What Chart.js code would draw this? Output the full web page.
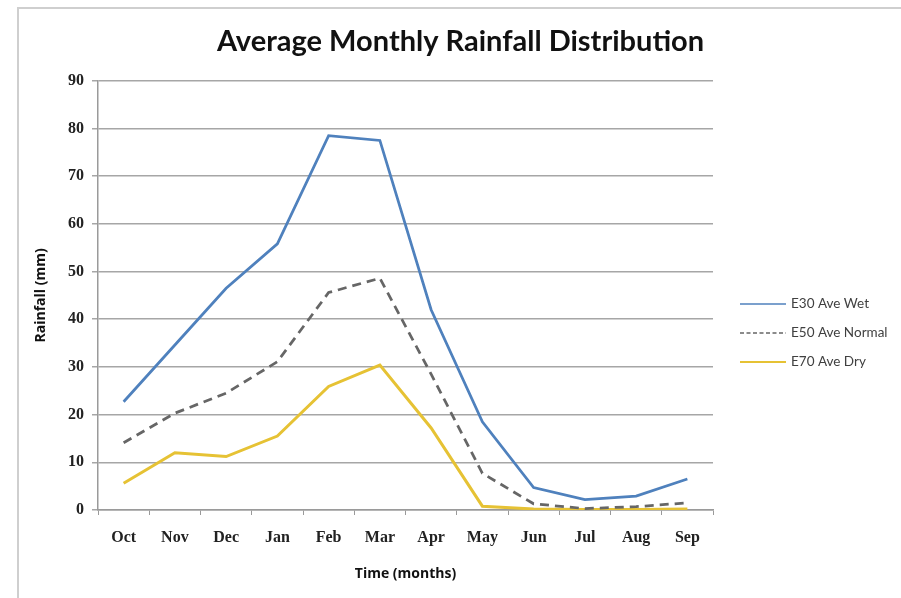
<!DOCTYPE html>
<html>
<head>
<meta charset="utf-8">
<script src="https://cdn.jsdelivr.net/npm/chart.js@4"></script>
<style>
  html, body { margin: 0; padding: 0; background: #ffffff; }
  #wrap { width: 901px; height: 598px; position: relative; }
</style>
</head>
<body>
<div id="wrap"><canvas id="c" width="901" height="598"></canvas></div>
<script>
// Months of the water year
const months = ['Oct', 'Nov', 'Dec', 'Jan', 'Feb', 'Mar', 'Apr', 'May', 'Jun', 'Jul', 'Aug', 'Sep'];

// Average monthly rainfall (mm)
const wetRain    = [22.7, 34.6, 46.5, 55.8, 78.5, 77.5, 42.0, 18.5, 4.7, 2.2, 2.9, 6.5];
const normalRain = [14.1, 20.3, 24.5, 31.1, 45.6, 48.6, 28.5, 7.7, 1.3, 0.3, 0.7, 1.5];
const dryRain    = [5.6, 12.0, 11.2, 15.5, 25.9, 30.4, 17.2, 0.8, 0.2, 0.1, 0.1, 0.2];

const seriesNames = ['E30 Ave Wet', 'E50 Ave Normal', 'E70 Ave Dry'];

// Thin grey frame around the chart panel
const framePlugin = {
  id: 'frame',
  beforeDraw(chart) {
    const ctx = chart.ctx;
    ctx.save();
    ctx.strokeStyle = '#cfcfcf';
    ctx.lineWidth = 2;
    ctx.beginPath();
    ctx.moveTo(18, 598);
    ctx.lineTo(18, 8);
    ctx.lineTo(901, 8);
    ctx.stroke();
    ctx.restore();
  }
};

// Legend listed to the right of the plot
const sideLegend = {
  id: 'sideLegend',
  afterDraw(chart) {
    const ctx = chart.ctx;
    const x0 = 740, x1 = 786, tx = 791;
    const ys = [304, 333, 362];
    ctx.save();
    ctx.font = '13.5px Lato, "Open Sans", sans-serif';
    ctx.textBaseline = 'middle';
    chart.data.datasets.forEach((ds, i) => {
      ctx.strokeStyle = ds.borderColor;
      ctx.lineWidth = ds.legendWidth || 2;
      ctx.setLineDash(ds.borderDash ? [4, 2.5] : []);
      ctx.beginPath();
      ctx.moveTo(x0, ys[i]);
      ctx.lineTo(x1, ys[i]);
      ctx.stroke();
      ctx.setLineDash([]);
      ctx.fillStyle = '#404040';
      ctx.fillText(ds.label, tx, ys[i]);
    });
    ctx.restore();
  }
};

const tickFont = { family: '"Liberation Serif", "DejaVu Serif", serif', size: 16, weight: 'bold' };
const axisTitleFont = { family: '"Open Sans", Lato, sans-serif', size: 14, weight: 'bold' };

new Chart(document.getElementById('c'), {
  type: 'line',
  data: {
    labels: months,
    datasets: [
      {
        label: seriesNames[0],
        data: wetRain,
        borderColor: '#4f81bd',
        backgroundColor: '#4f81bd',
        borderWidth: 2.75,
        legendWidth: 1.5,
        pointRadius: 0,
        tension: 0
      },
      {
        label: seriesNames[1],
        data: normalRain,
        borderColor: '#666666',
        backgroundColor: '#666666',
        borderWidth: 2.75,
        borderDash: [9, 6],
        legendWidth: 1.5,
        pointRadius: 0,
        tension: 0
      },
      {
        label: seriesNames[2],
        data: dryRain,
        borderColor: '#e6c234',
        backgroundColor: '#e6c234',
        borderWidth: 3,
        legendWidth: 2,
        pointRadius: 0,
        tension: 0
      }
    ]
  },
  options: {
    responsive: false,
    animation: false,
    devicePixelRatio: 1,
    layout: { padding: { left: 20, right: 0, top: 0, bottom: 0 } },
    plugins: {
      legend: { display: false },
      tooltip: { enabled: false },
      title: {
        display: true,
        text: 'Average Monthly Rainfall Distribution',
        color: '#111111',
        font: { family: 'Lato, "Open Sans", sans-serif', size: 29, weight: 'bold', lineHeight: 1.2 },
        padding: { top: 24, bottom: 22 }
      }
    },
    scales: {
      x: {
        offset: true,
        grid: {
          offset: true,
          drawOnChartArea: false,
          drawTicks: true,
          tickLength: 5,
          color: '#9a9a9a'
        },
        border: { display: true, color: '#9a9a9a', width: 1.5 },
        ticks: { color: '#222222', font: tickFont, padding: 13, maxRotation: 0, autoSkip: false },
        title: {
          display: true,
          text: 'Time (months)',
          color: '#111111',
          font: axisTitleFont,
          padding: { top: 0, bottom: 16 }
        },
        afterFit(scale) { scale.height = 88; }
      },
      y: {
        min: 0,
        max: 90,
        grid: {
          color: '#a6a6a6',
          lineWidth: 1.5,
          drawTicks: true,
          tickLength: 6
        },
        border: { display: true, color: '#9a9a9a', width: 1.5 },
        ticks: { stepSize: 10, color: '#222222', font: tickFont, padding: 8 },
        title: {
          display: true,
          text: 'Rainfall (mm)',
          color: '#111111',
          font: axisTitleFont,
          padding: { top: 13, bottom: 0 }
        },
        afterFit(scale) { scale.width = 78; }
      },
      // empty right-hand band that holds the legend
      legendBand: {
        type: 'linear',
        position: 'right',
        display: true,
        grid: { display: false },
        border: { display: false },
        ticks: { display: false },
        afterFit(scale) { scale.width = 188; }
      }
    }
  },
  plugins: [framePlugin, sideLegend]
});
</script>
</body>
</html>
